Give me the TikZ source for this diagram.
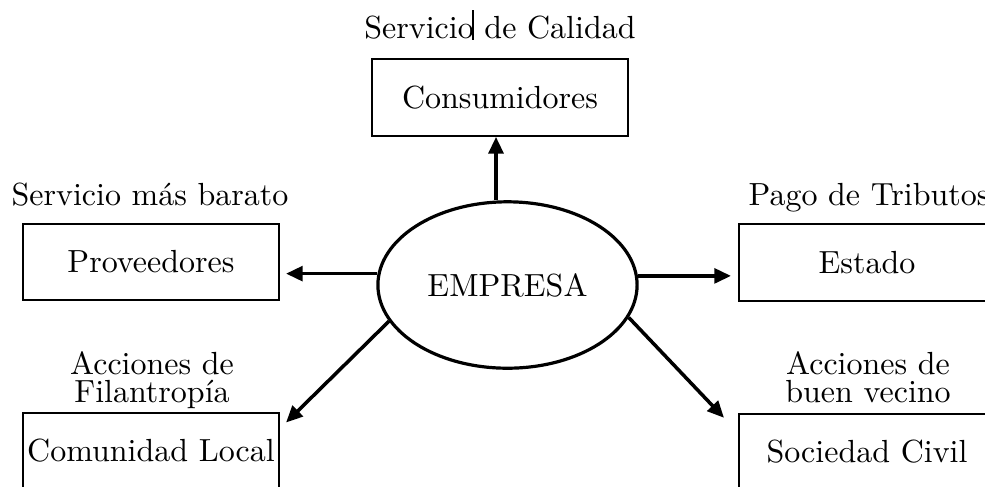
\documentclass[tikz,border=0pt]{standalone}
\usetikzlibrary{arrows.meta,shapes.geometric}
\begin{document}
\begin{tikzpicture}[x=0.3125pt,y=-0.3125pt,
  box/.style={draw, line width=0.6pt, rectangle, minimum width=80pt, minimum height=24pt, inner sep=1pt},
  lbl/.style={inner sep=0pt, align=center, font=\fontsize{10}{8.75}\selectfont},
  arr/.style={line width=1.1pt, -{Triangle[length=5.2pt,width=4.6pt]}},
  oval/.style={draw, ellipse, line width=1pt, minimum width=81pt, minimum height=52pt, inner sep=0pt}]
\clip (0,0) rectangle (985,486);
\node[box] (cons) at (500,97.5) {Consumidores};
\node[box] (prov) at (151,262) {Proveedores};
\node[box] (est) at (867,262.5) {Estado};
\node[box] (com) at (151,451) {Comunidad Local};
\node[box] (soc) at (867,452) {Sociedad Civil};
\node[oval] (emp) at (507.5,285) {EMPRESA};
\node[lbl, anchor=base] (lcons) at (500,38) {Servicio de Calidad};
\node[lbl, anchor=base] (lprov) at (150,205) {Servicio más barato};
\node[lbl, anchor=base west] (lest) at (748,205) {Pago de Tributos};
\node[lbl, anchor=north] (lcom) at (152,351) {Acciones de\\Filantropía};
\node[lbl, anchor=north] (lsoc) at (868,351) {Acciones de\\buen vecino};
\draw[line width=0.5pt] (473,10) -- (473,40);
\draw[arr] ([xshift=-1.25pt]cons.south |- emp.north) -- ([xshift=-1.25pt]cons.south);
\draw[arr, shorten >=1.9pt] (emp.175.6) -- (emp.175.6 -| prov.east);
\draw[arr, shorten >=2.2pt] (emp.4.4) -- (emp.4.4 -| est.west);
\draw[arr] (emp.197.5) -- ([xshift=1.9pt,yshift=-3.4pt]com.north east);
\draw[arr] (emp.345.4) -- ([xshift=-4.4pt,yshift=-1.6pt]soc.north west);
\end{tikzpicture}
\end{document}
